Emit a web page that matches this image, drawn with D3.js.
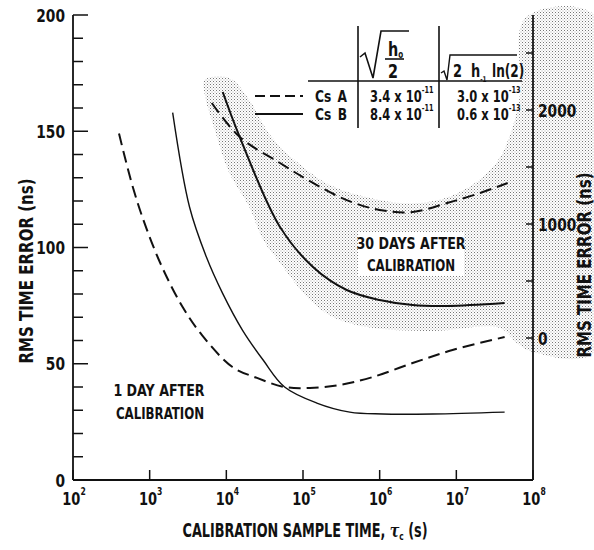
<!DOCTYPE html>
<html>
<head>
<meta charset="utf-8">
<script src="https://cdn.jsdelivr.net/npm/d3@7"></script>
<style>
  body { margin: 0; background: #fff; }
  svg text { font-family: "Liberation Sans Narrow", "DejaVu Sans Condensed", "Arial Narrow", sans-serif; font-weight: bold; fill: #111; }
</style>
</head>
<body>
<svg width="594" height="550"></svg>
<script>
// x values are log10 of the calibration sample time (s)
// 1 day after calibration, left axis (ns)
const day1A_lx = [2.6, 2.78, 2.96, 3.17, 3.43, 3.68, 4.08, 4.4, 4.76, 5.09, 5.48, 5.91, 6.43, 6.95, 7.63];
const day1A_ns = [149, 126, 108, 91, 74.4, 62.4, 48.6, 43.9, 40.0, 39.6, 40.9, 44.3, 50.3, 55.9, 61.5];
const day1B_lx = [3.3, 3.52, 3.74, 3.95, 4.21, 4.48, 4.76, 5.18, 5.61, 6.04, 6.69, 7.63];
const day1B_ns = [158, 117.4, 95.9, 80.4, 64.5, 51.6, 40.0, 33.1, 29.2, 28.4, 28.4, 29.2];
// 30 days after calibration, right axis (ns)
const day30A_lx = [3.81, 4.175, 4.7, 5.13, 5.57, 6.0, 6.43, 6.88, 7.31, 7.67];
const day30A_ns = [2061, 1763, 1535, 1360, 1210, 1123, 1105, 1184, 1272, 1360];
const day30B_lx = [3.953, 4.175, 4.7, 5.13, 5.57, 6.0, 6.43, 6.88, 7.63];
const day30B_ns = [2158, 1763, 974, 623, 421, 333, 289, 281, 307];
// shaded uncertainty band (outline), right axis units
const band_lx = [3.72, 4.04, 4.3, 4.57, 4.89, 5.35, 6.0, 6.52, 7.05, 7.5, 7.7, 7.83, 7.9, 8.8,
                 8.8, 8.0, 7.79, 7.57, 6.69, 5.83, 5.39, 5.09, 4.7, 4.48, 4.3, 4.04, 3.85, 3.72];
const band_ns = [2263, 2281, 2088, 1781, 1561, 1342, 1211, 1184, 1281, 1518, 1781, 2132, 2807, 2833,
                 -123, -123, -44, 88, 61, 96, 184, 333, 658, 860, 1149, 1447, 1825, 2132];

// axes
const xExp = [2, 3, 4, 5, 6, 7, 8];
const yTicks = d3.range(0, 201, 10);
const yLabels = [0, 50, 100, 150, 200];
const yRTicks = [0, 500, 1000, 1500, 2000, 2500];
const yRLabels = [0, 1000, 2000];

// table
const models = ["Cs A", "Cs B"];
const h0Mant = ["3.4", "8.4"];
const h0Exp = ["-11", "-11"];
const hm1Mant = ["3.0", "0.6"];
const hm1Exp = ["-13", "-13"];

const svg = d3.select("svg");
const x = d3.scaleLog().domain([1e2, 1e8]).range([73, 533]);
const y = d3.scaleLinear().domain([0, 200]).range([480, 15]);
const yR = d3.scaleLinear().domain([0, 2000]).range([338, 110]);

function txt(sel, px, py, s, size, sx, anchor) {
  return sel.append("text")
    .attr("transform", "translate(" + px + "," + py + ") scale(" + sx + ",1)")
    .attr("text-anchor", anchor || "start")
    .attr("font-size", size)
    .text(s);
}

// stipple pattern
const defs = svg.append("defs");
const pat = defs.append("pattern").attr("id", "stip")
  .attr("width", 3).attr("height", 3).attr("patternUnits", "userSpaceOnUse");
pat.append("rect").attr("x", 0).attr("y", 0).attr("width", 1).attr("height", 1).attr("fill", "#777");
pat.append("rect").attr("x", 1.5).attr("y", 1.5).attr("width", 1).attr("height", 1).attr("fill", "#aaa");

const band = d3.line()
  .x((d, i) => x(Math.pow(10, band_lx[i])))
  .y(d => yR(d))
  .curve(d3.curveCatmullRomClosed.alpha(0.5));
svg.append("path").attr("d", band(band_ns)).attr("fill", "url(#stip)");

// curve labels
svg.append("rect").attr("x", 358).attr("y", 232).attr("width", 106).attr("height", 44).attr("fill", "#fff");
txt(svg, 411, 249, "30 DAYS AFTER", 16, 0.88, "middle");
txt(svg, 411, 271, "CALIBRATION", 16, 0.82, "middle");
txt(svg, 159, 396, "1 DAY AFTER", 16, 0.88, "middle");
txt(svg, 160, 419, "CALIBRATION", 16, 0.82, "middle");

// curves
function curve(lx, vals, ys, dashed, w) {
  const gen = d3.line()
    .x((d, i) => x(Math.pow(10, lx[i])))
    .y(d => ys(d))
    .curve(d3.curveCatmullRom.alpha(0.5));
  svg.append("path").attr("d", gen(vals))
    .attr("fill", "none").attr("stroke", "#111")
    .attr("stroke-width", w)
    .attr("stroke-dasharray", dashed ? "12,6" : null);
}
curve(day1A_lx, day1A_ns, y, true, 2);
curve(day1B_lx, day1B_ns, y, false, 1.4);
curve(day30A_lx, day30A_ns, yR, true, 2);
curve(day30B_lx, day30B_ns, yR, false, 2);

// axis lines
const ax = svg.append("g").attr("stroke", "#111").attr("stroke-width", 1.8);
ax.append("line").attr("x1", x(1e2)).attr("x2", x(1e2)).attr("y1", y(200)).attr("y2", y(0));
ax.append("line").attr("x1", x(1e2)).attr("x2", x(1e8)).attr("y1", y(0)).attr("y2", y(0));
ax.append("line").attr("x1", x(1e8)).attr("x2", x(1e8)).attr("y1", y(200)).attr("y2", y(0));

// left ticks
yTicks.forEach(v => {
  const len = v % 50 === 0 ? 15 : 10;
  ax.append("line").attr("x1", x(1e2)).attr("x2", x(1e2) + len).attr("y1", y(v)).attr("y2", y(v)).attr("stroke-width", 1.5);
});
yLabels.forEach(v => txt(svg, 65, y(v) + 6.5, String(v), 18, 0.85, "end"));

// bottom ticks
xExp.forEach(e => {
  ax.append("line").attr("x1", x(Math.pow(10, e))).attr("x2", x(Math.pow(10, e)))
    .attr("y1", y(0)).attr("y2", y(0) - 10).attr("stroke-width", 1.5);
  const t = txt(svg, x(Math.pow(10, e)) + 1, 505, "10", 17, 0.85, "middle");
  t.append("tspan").attr("font-size", 10).attr("dy", -10).text(e);
});

// right ticks
yRTicks.forEach(v => {
  ax.append("line").attr("x1", x(1e8)).attr("x2", x(1e8) - 7).attr("y1", yR(v)).attr("y2", yR(v)).attr("stroke-width", 1.5);
});
yRLabels.forEach(v => txt(svg, 538, yR(v) + 6.5, String(v), 18, 0.85, "start"));

// axis titles
svg.append("text").attr("transform", "translate(33,271) rotate(-90)")
  .attr("text-anchor", "middle").attr("font-size", 19)
  .attr("textLength", 185).attr("lengthAdjust", "spacingAndGlyphs")
  .text("RMS TIME ERROR (ns)");
svg.append("text").attr("transform", "translate(591,265) rotate(-90)")
  .attr("text-anchor", "middle").attr("font-size", 19)
  .attr("textLength", 185).attr("lengthAdjust", "spacingAndGlyphs")
  .text("RMS TIME ERROR (ns)");
const xl = txt(svg, 305, 537, "CALIBRATION SAMPLE TIME, ", 19, 0.75, "middle");
xl.append("tspan").attr("font-style", "italic").attr("font-family", "DejaVu Serif").text("τ");
xl.append("tspan").attr("font-size", 11).attr("dy", 3).text("c");
xl.append("tspan").attr("dy", -3).text(" (s)");

// table
const tb = svg.append("g");
tb.append("line").attr("x1", 308).attr("x2", 522).attr("y1", 81).attr("y2", 81).attr("stroke", "#111").attr("stroke-width", 1.6);
[358, 439].forEach(cx => tb.append("line").attr("x1", cx).attr("x2", cx).attr("y1", 26).attr("y2", 128).attr("stroke", "#111").attr("stroke-width", 1.6));
// header 1: sqrt(h0 / 2)
tb.append("path").attr("d", "M360,57 L365,53 L373,78 L381,31 L409,31")
  .attr("fill", "none").attr("stroke", "#111").attr("stroke-width", 1.6);
const hh = txt(tb, 388, 56, "h", 20, 0.8, "start");
hh.append("tspan").attr("font-size", 10).attr("dy", 2).text("o");
tb.append("line").attr("x1", 385).attr("x2", 404).attr("y1", 59).attr("y2", 59).attr("stroke", "#111").attr("stroke-width", 1.6);
txt(tb, 393, 78, "2", 20, 0.8, "middle");
// header 2: sqrt(2 h-1 ln(2))
tb.append("path").attr("d", "M441,73 L444,71 L447,80 L450,55 L517,55")
  .attr("fill", "none").attr("stroke", "#111").attr("stroke-width", 1.4);
txt(tb, 453, 77, "2", 18, 0.8, "start");
const hm = txt(tb, 471, 77, "h", 18, 0.8, "start");
hm.append("tspan").attr("font-size", 8).attr("dy", 5).text("-1");
txt(tb, 492, 77, "ln(2)", 18, 0.75, "start");
// rows
models.forEach((m, i) => {
  const by = 102 + i * 18;
  tb.append("line").attr("x1", 255).attr("x2", 303).attr("y1", by - 6).attr("y2", by - 6)
    .attr("stroke", "#111").attr("stroke-width", 2)
    .attr("stroke-dasharray", i === 0 ? "10,5" : null);
  txt(tb, 315, by, m.split(" ")[0], 16, 0.85, "start");
  txt(tb, 347, by, m.split(" ")[1], 16, 0.85, "end");
  const a = txt(tb, 370, by, h0Mant[i] + " x 10", 16, 0.8, "start");
  a.append("tspan").attr("font-size", 9).attr("dy", -9).text(h0Exp[i]);
  const b = txt(tb, 457, by, hm1Mant[i] + " x 10", 16, 0.8, "start");
  b.append("tspan").attr("font-size", 9).attr("dy", -9).text(hm1Exp[i]);
});
</script>
</body>
</html>
